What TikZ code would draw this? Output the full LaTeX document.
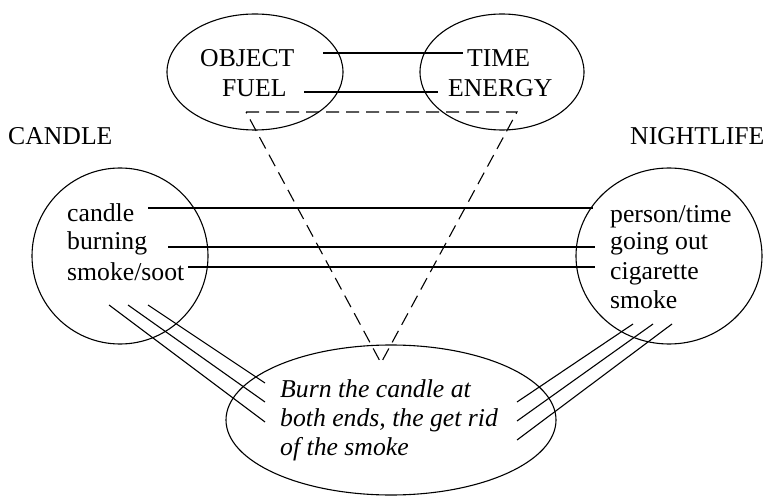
\documentclass[tikz,border=0pt]{standalone}
\usepackage{fontspec}
\setmainfont{Liberation Serif}
\usetikzlibrary{shapes.geometric}
\tikzset{%
  blob/.style    = {shape=ellipse, draw, line width=1.1pt, inner sep=0pt},%
  word/.style    = {anchor=base west, inner sep=0pt,%
                    font=\fontsize{25.7}{29}\selectfont},%
  link/.style    = {line width=1.1pt},%
  mapping/.style = {line width=1.1pt, dash pattern=on 13pt off 7pt}%
}

\begin{document}
\begin{tikzpicture}[x=1pt,y=1pt]
	\useasboundingbox (0,0) rectangle (763,496);
	% domains
	\node[blob, minimum width=176pt, minimum height=116pt] (source) at (255,424) {};
	\node[blob, minimum width=164pt, minimum height=116pt] (target) at (502,424) {};
	\node[blob, minimum width=176pt, minimum height=176pt] (candlec) at (120,240) {};
	\node[blob, minimum width=186pt, minimum height=176pt] (nightc) at (669,240) {};
	\node[blob, minimum width=330pt, minimum height=150pt] (idiom) at (391,76) {};
	% labels
	\node[word] (candlelab) at (8,351) {CANDLE};
	\node[word] (nightlab) at (630,351) {NIGHTLIFE};
	\node[word] (object) at (200,429) {OBJECT};
	\node[word] (fuel) at (222,399) {FUEL};
	\node[word] (time) at (467,429) {TIME};
	\node[word] (energy) at (448,399) {ENERGY};
	\node[word] (candle) at (67,274) {candle};
	\node[word] (burning) at (67,246) {burning};
	\node[word] (soot) at (67,215) {smoke/soot};
	\node[word] (person) at (610,273) {person/time};
	\node[word] (goingout) at (610,246) {going out};
	\node[word] (cigarette) at (610,216) {cigarette};
	\node[word] (smoke) at (610,188) {smoke};
	\node[word, align=left, font=\fontsize{25.7}{29}\selectfont\itshape] (burn) at (280,41)
		{Burn the candle at\\both ends, the get rid\\of the smoke};
	% end points
	\coordinate (ot1) at (323,443); \coordinate (ot2) at (463,443);
	\coordinate (fe1) at (304,404); \coordinate (fe2) at (438,404);
	\coordinate (cp1) at (148,288); \coordinate (cp2) at (593,288);
	\coordinate (bg1) at (168,249); \coordinate (bg2) at (595,249);
	\coordinate (sc1) at (188,229); \coordinate (sc2) at (595,229);
	\coordinate (tri1) at (246,384); \coordinate (tri2) at (517,384);
	\coordinate (tri3) at (381,133);
	\draw[link] (ot1) -- (ot2);
	\draw[link] (fe1) -- (fe2);
	\draw[link] (cp1) -- (cp2);
	\draw[link] (bg1) -- (bg2);
	\draw[link] (sc1) -- (sc2);
	\draw[mapping] (tri1) -- (tri2) -- (tri3) -- cycle;
	\foreach \a/\b [count=\i] in {109/74, 128/94, 148/113}{
		\coordinate (la\i) at (\a,191); \coordinate (lb\i) at (265,\b);
		\draw[link] (la\i) -- (lb\i);
	}
	\foreach \a/\b [count=\i] in {633/94, 653/75, 672/56}{
		\coordinate (ra\i) at (\a,172); \coordinate (rb\i) at (517,\b);
		\draw[link] (ra\i) -- (rb\i);
	}
\end{tikzpicture}
\end{document}
